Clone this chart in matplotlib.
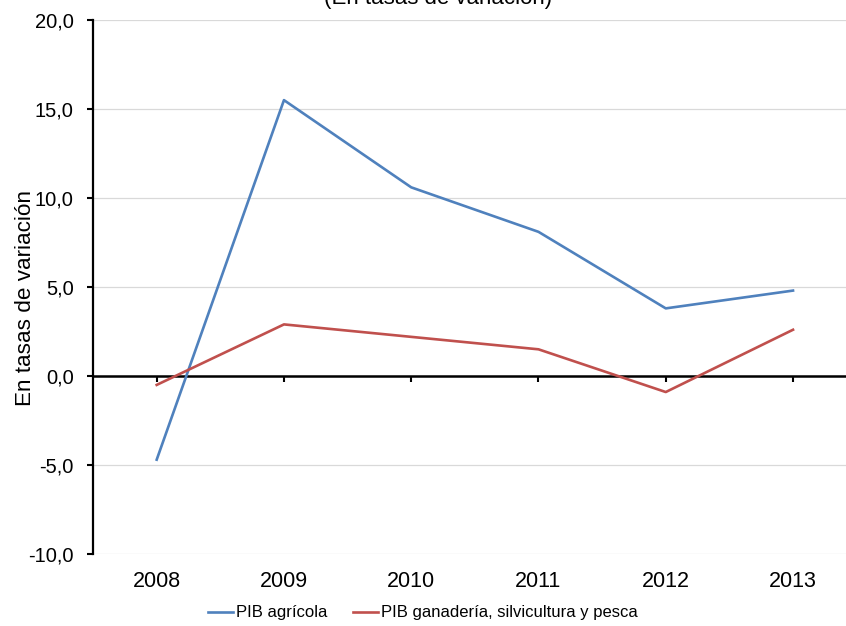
import matplotlib.pyplot as plt
from matplotlib.ticker import FuncFormatter

plt.rcParams['font.family'] = ['Liberation Sans', 'DejaVu Sans']

years = ['2008', '2009', '2010', '2011', '2012', '2013']
pib_agricola = [-4.7, 15.5, 10.6, 8.1, 3.8, 4.8]
pib_ganaderia = [-0.5, 2.9, 2.2, 1.5, -0.9, 2.6]
series_names = ['PIB agrícola', 'PIB ganadería, silvicultura y pesca']

fig = plt.figure(figsize=(8.46, 6.26), dpi=100)
ax = fig.add_axes([0.110, 0.115, 0.9026, 0.853])

x = range(len(years))
ax.plot(x, pib_agricola, color='#4F81BD', lw=1.9, label=series_names[0])
ax.plot(x, pib_ganaderia, color='#C0504D', lw=1.9, label=series_names[1])

ax.set_xlim(-0.5, 5.5)
ax.set_ylim(-10, 20)
ax.set_yticks(range(-10, 21, 5))
ax.yaxis.set_major_formatter(FuncFormatter(lambda v, p: f'{v:.1f}'.replace('.', ',')))
ax.grid(axis='y', color='#D9D9D9', lw=0.9)
ax.set_axisbelow(True)

for s in ['top', 'right']:
    ax.spines[s].set_visible(False)
ax.spines['left'].set_linewidth(1.6)
ax.spines['bottom'].set_position(('data', 0))
ax.spines['bottom'].set_linewidth(1.8)
ax.spines['bottom'].set_zorder(1)

ax.set_xticks(list(x))
ax.tick_params(axis='x', direction='out', length=4, width=1.5, labelbottom=False)
ax.tick_params(axis='y', direction='out', length=4, width=1.5, labelsize=14.5, pad=10)

sec = ax.secondary_xaxis(0)
sec.set_xticks(list(x), labels=years)
sec.spines['bottom'].set_visible(False)
sec.tick_params(length=0, pad=12, labelsize=15.5)

ax.set_ylabel('En tasas de variación', fontsize=16.2)
ax.yaxis.set_label_coords(-0.075, 0.479)

fig.text(438 / 846, 1 - 4 / 626, '(En tasas de variación)', ha='center', va='baseline',
         fontsize=16)

fig.legend(loc='center', bbox_to_anchor=(423 / 846, 1 - 613 / 626), ncol=2,
           frameon=False, fontsize=12, handlelength=1.5, handletextpad=0.2,
           columnspacing=1.5)

fig.savefig('out.png', dpi=100)
